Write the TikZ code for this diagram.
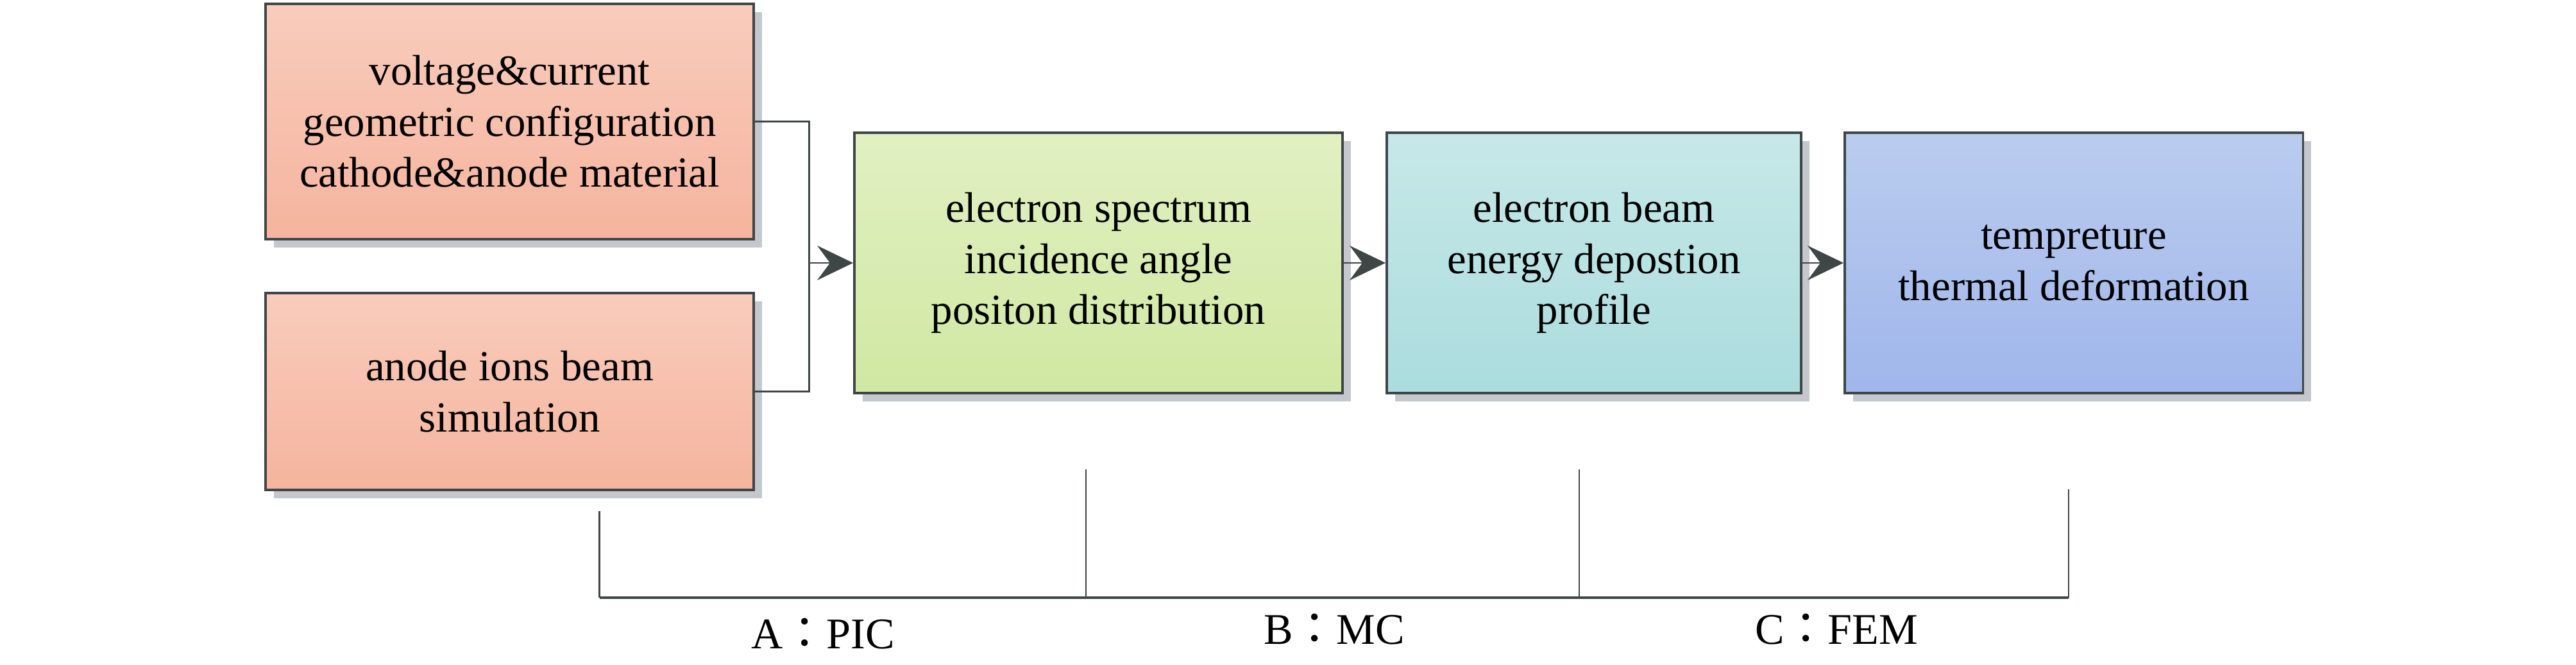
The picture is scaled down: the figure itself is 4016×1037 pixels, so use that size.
\documentclass[tikz,border=0pt]{standalone}
\usepackage{fontspec}
\setmainfont{Liberation Serif}
\newfontfamily\cjk{Noto Sans CJK TC}
\usetikzlibrary{arrows.meta,shadows}

\definecolor{edgegray}{RGB}{62,70,70}
\definecolor{shadegray}{RGB}{196,199,206}
\definecolor{salmontop}{RGB}{249,204,188}
\definecolor{salmonbot}{RGB}{245,180,158}
\definecolor{limetop}{RGB}{225,240,194}
\definecolor{limebot}{RGB}{208,232,162}
\definecolor{aquatop}{RGB}{199,232,232}
\definecolor{aquabot}{RGB}{171,220,222}
\definecolor{bluetop}{RGB}{186,204,238}
\definecolor{bluebot}{RGB}{160,182,235}
\newcommand{\fwcolon}{\mbox{\cjk ：}}

\tikzset{
	block/.style={draw=edgegray, line width=1pt, inner sep=0pt, align=center,
		font=\fontsize{19}{22.6}\selectfont,
		general shadow={fill=shadegray, shadow xshift=0.13cm, shadow yshift=-0.13cm}},
	link/.style={draw=edgegray, line width=0.85pt},
	flow/.style={link, -{Stealth[length=0.56cm,width=0.54cm,inset=0.2cm]}},
	tick/.style={draw=edgegray, line width=0.8pt},
	railline/.style={draw=edgegray, line width=1.15pt},
	stagelabel/.style={font=\fontsize{19.4}{23}\selectfont\rmfamily, anchor=base, inner sep=0pt},
}

\begin{document}
\begin{tikzpicture}[x=0.01cm, y=-0.01cm]
			%%%%% START %%%%%
			
			\useasboundingbox (0, 0) rectangle (4016, 1037);
			
			\node[block, minimum width=7.61cm, minimum height=3.67cm, top color=salmontop, bottom color=salmonbot] (in1) at (794.5, 189.5) {voltage\&current\\geometric configuration\\cathode\&anode material};
			\node[block, minimum width=7.61cm, minimum height=3.07cm, top color=salmontop, bottom color=salmonbot] (in2) at (794.5, 610.5) {anode ions beam\\simulation};
			
			\node[block, minimum width=7.61cm, minimum height=4.06cm, top color=limetop, bottom color=limebot] (spec) at (1712.5, 410) {electron spectrum\\incidence angle\\positon distribution};
			\node[block, minimum width=6.46cm, minimum height=4.06cm, top color=aquatop, bottom color=aquabot] (dep) at (2485, 410) {electron beam\\energy depostion\\profile};
			\node[block, minimum width=7.14cm, minimum height=4.06cm, top color=bluetop, bottom color=bluebot] (therm) at (3233, 410) {tempreture\\thermal deformation};
			
			\coordinate (join) at (1261, 410);
			\draw[link] (in1.east) -| (join) |- (in2.east);
			\draw[flow] (join) -- (spec.west);
			\draw[flow] (spec.east) -- (dep.west);
			\draw[flow] (dep.east) -- (therm.west);
			
			\coordinate (rail) at (0, 932);
			\coordinate (t0) at (934.5, 797);
			\coordinate (t1) at (1693, 732);
			\coordinate (t2) at (2462, 732);
			\coordinate (t3) at (3225, 763);
			
			\draw[tick] (t0) -- (t0 |- rail);
			\draw[tick] (t1) -- (t1 |- rail);
			\draw[tick] (t2) -- (t2 |- rail);
			\draw[tick] (t3) -- (t3 |- rail);
			\draw[railline] (t0 |- rail) -- (t3 |- rail);
			
			\node[stagelabel] (pic) at (1283, 1011) {A\fwcolon PIC};
			\node[stagelabel] (mc) at (2080, 1004) {B\fwcolon MC};
			\node[stagelabel] (fem) at (2863, 1004) {C\fwcolon FEM};
			
			%%%%% END %%%%%
\end{tikzpicture}
\end{document}
